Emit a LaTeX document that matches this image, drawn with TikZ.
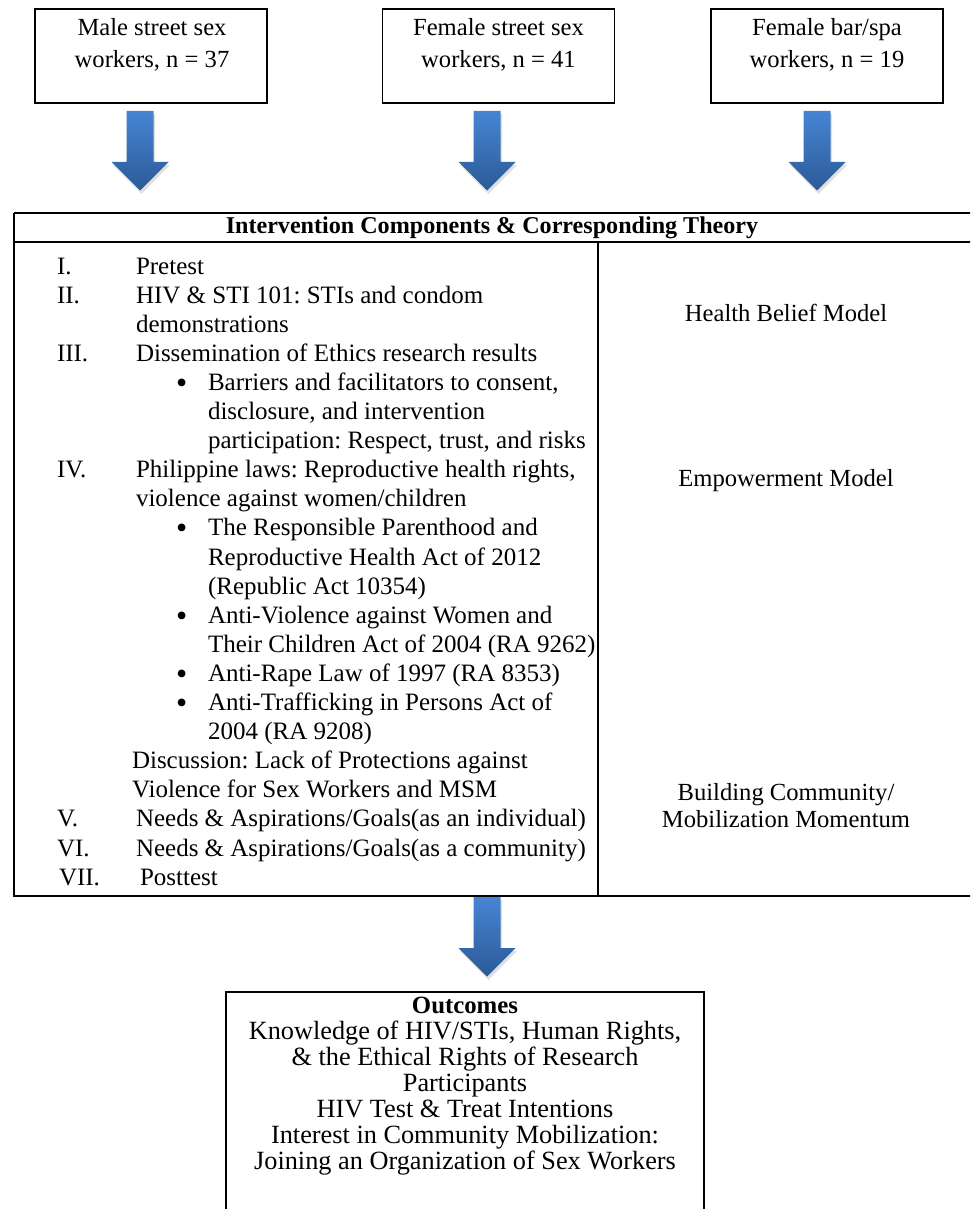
\documentclass[tikz,border=0pt]{standalone}
\usepackage{fontspec}
\setmainfont{Liberation Serif}
\definecolor{arrtop}{RGB}{70,133,212}
\definecolor{arrbot}{RGB}{44,90,150}
\begin{document}
\frenchspacing
\begin{tikzpicture}[x=1pt,y=-1pt,
  every node/.style={inner sep=0pt, outer sep=0pt},
  body/.style={font=\fontsize{25}{29.1}\selectfont},
  rowtxt/.style={body, anchor=base west},
  bullettxt/.style={font=\fontsize{32}{32}\selectfont, anchor=base west},
  boxline/.style={draw=black, line width=1.2pt},
  topbox/.style={boxline, minimum width=232pt, minimum height=94pt},
  boxtxt/.style={font=\fontsize{24.6}{32}\selectfont, align=center},
  theory/.style={font=\fontsize{24.6}{27}\selectfont, align=center},
  tline/.style={line width=1.3pt},
  hline/.style={line width=2.4pt},
  blockarrow/.pic={
    \fill[black, opacity=0.12] (-12,3) -- (15,3) -- (15,54) -- (30,54) -- (1.5,83) -- (-27,54) -- (-12,54) -- cycle;
    \shade[top color=arrtop, bottom color=arrbot] (-13.5,0) -- (13.5,0) -- (13.5,51) -- (28.5,51) -- (0,79.5) -- (-28.5,51) -- (-13.5,51) -- cycle;
  }]
\useasboundingbox (0,0) rectangle (970,1209);
\clip (0,0) rectangle (970,1209);
\fill[white] (0,0) rectangle (970,1209);

% top boxes
\node[topbox] (b1) at (151,56) {};
\node[topbox] (b2) at (498.5,56) {};
\node[topbox] (b3) at (827,56) {};
\node[boxtxt] (t1) at (152,45) {Male street sex\\workers, n = 37};
\node[boxtxt] (t2) at (498.5,45) {Female street sex\\workers, n = 41};
\node[boxtxt] (t3) at (827,45) {Female bar/spa\\workers, n = 19};

% arrows
\pic at (140,111) {blockarrow};
\pic at (487,111) {blockarrow};
\pic at (817,111) {blockarrow};
\pic at (487,897) {blockarrow};

% table
\draw[tline] (14,213) -- (975,213);
\draw[hline] (13,242) -- (975,242);
\draw[tline] (14,213) -- (14,896) -- (975,896);
\draw[tline] (598,242) -- (598,896);
\node[font=\bfseries\fontsize{24.1}{29}\selectfont] (hdr) at (492,228) {Intervention Components \& Corresponding Theory};

% left column: numerals
\foreach \k/\t in {0/I., 1/II., 3/III., 7/IV., 19/V., 20/VI.}
  \node[rowtxt] (num\k) at (57,{274+29.1*\k}) {\t};
\node[rowtxt] (num21) at (59,{274+29.1*21}) {VII.};

% left column: item text
\foreach \k/\t in {0/Pretest, 1/{HIV \& STI 101: STIs and condom}, 2/demonstrations,
  3/{Dissemination of Ethics research results}, 7/{Philippine laws: Reproductive health rights,},
  8/{violence against women/children}, 19/{Needs \& Aspirations/Goals(as an individual)},
  20/{Needs \& Aspirations/Goals(as a community)}}
  \node[rowtxt] (row\k) at (136,{274+29.1*\k}) {\t};
\node[rowtxt] (row21) at (140,{274+29.1*21}) {Posttest};
\node[rowtxt] (row17) at (132,{274+29.1*17}) {Discussion: Lack of Protections against};
\node[rowtxt] (row18) at (132,{274+29.1*18}) {Violence for Sex Workers and MSM};

% bullets
\foreach \k in {4,9,12,14,15}
  \node[bullettxt] (bul\k) at (176,{277+29.1*\k}) {•};
\foreach \k/\t in {4/{Barriers and facilitators to consent,}, 5/{disclosure, and intervention},
  6/{participation: Respect, trust, and risks}, 9/{The Responsible Parenthood and},
  10/{Reproductive Health Act of 2012}, 11/{(Republic Act 10354)},
  12/{Anti-Violence against Women and}, 13/{Their Children Act of 2004 (RA 9262)},
  14/{Anti-Rape Law of 1997 (RA 8353)}, 15/{Anti-Trafficking in Persons Act of},
  16/{2004 (RA 9208)}}
  \node[rowtxt] (row\k) at (208,{274+29.1*\k}) {\t};

% right column
\node[theory] (hbm) at (786,313) {Health Belief Model};
\node[theory] (emp) at (786,481) {Empowerment Model};
\node[theory] (bcm) at (786,806) {Building Community/\\Mobilization Momentum};

% outcomes
\node[boxline, minimum width=478pt, minimum height=260pt, anchor=north] (outbox) at (465,992) {};
\node[font=\fontsize{26.3}{25.9}\selectfont, align=center] (outtxt) at (465,1086)
  {{\bfseries\fontsize{24.8}{25.9}\selectfont Outcomes}\\Knowledge of HIV/STIs, Human Rights,\\\& the Ethical Rights of Research\\Participants\\HIV Test \& Treat Intentions\\Interest in Community Mobilization:\\Joining an Organization of Sex Workers};
\end{tikzpicture}
\end{document}
